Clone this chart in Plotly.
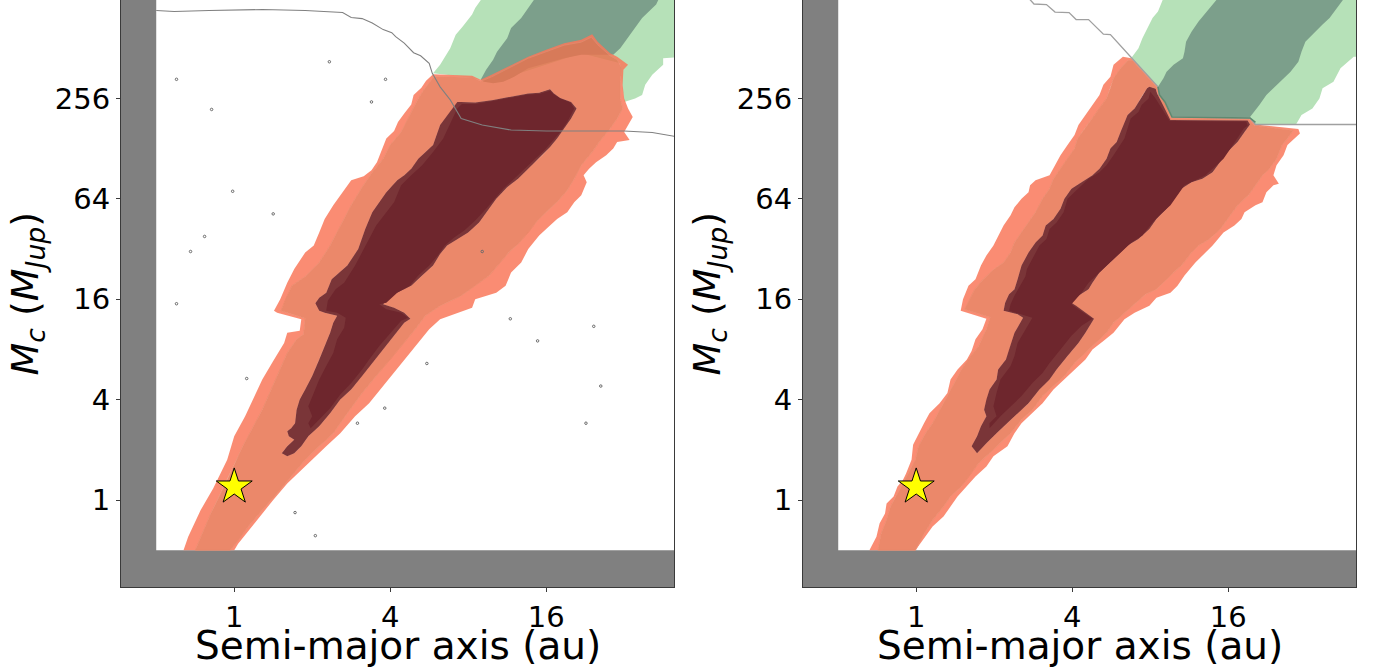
import numpy as np
import plotly.graph_objects as go

FONT = "DejaVu Sans"

# ---------------- data ----------------
A_RANGE = (0.3656, 49.83)      # au, visible window
M_RANGE = (0.3009, 996.0)      # M_Jup, visible window
A_CUT = 0.5                    # grid starts here (au)
M_CUT = 0.5                    # grid starts here (M_Jup)
X_TICKS = [1, 4, 16]
Y_TICKS = [1, 4, 16, 64, 256]
STAR_A = [1.0]
STAR_M = [1.2]

# contour vertices as (log2 a [au], log2 Mc [M_Jup])
LEFT_OUTER = [(-0.65,-1.0),(-0.59,-0.73),(-0.43,-0.2),(-0.27,0.23),(-0.09,0.8),(0.0,1.27),(0.14,1.67),(0.36,2.4),(0.5,2.77),(0.64,3.13),(0.68,3.33),(0.84,3.37),(0.86,3.6),(0.55,3.73),(0.51,3.77),(0.59,4.0),(0.68,4.33),
    (0.77,4.6),(0.91,4.93),(1.02,5.07),(1.09,5.33),(1.16,5.6),(1.27,5.87),(1.39,6.13),(1.5,6.37),(1.66,6.45),(1.76,6.57),(1.83,6.73),(1.89,6.97),(1.95,7.2),(2.05,7.35),(2.1,7.53),(2.18,7.7),(2.27,7.88),(2.3,8.07),(2.4,8.21),(2.46,8.35),(2.55,8.48),
    (3.05,8.45),(3.16,8.37),(3.3,8.47),(3.55,8.67),(3.77,8.83),(4.0,8.97),(4.23,9.1),(4.45,9.17),(4.59,9.28),(4.66,9.13),(4.82,8.9),(4.91,8.83),(5.05,8.67),
    (4.99,8.57),(4.98,8.27),(5.0,8.0),(5.05,7.8),(5.11,7.63),(5.05,7.47),(5.0,7.33),(5.07,7.17),(4.91,7.13),(4.86,7.0),(4.77,6.87),(4.64,6.73),(4.55,6.6),(4.48,6.47),(4.52,6.33),(4.45,6.07),(4.36,5.93),(4.27,5.73),(4.14,5.6),(4.0,5.4),(3.91,5.27),(3.77,5.0),(3.68,4.73),(3.55,4.53),(3.48,4.27),
    (3.36,4.13),(3.09,4.0),(3.05,3.83),(2.86,3.73),(2.64,3.6),(2.5,3.4),(2.36,3.13),(2.23,2.87),(2.05,2.53),(1.91,2.27),(1.73,1.93),(1.55,1.67),(1.36,1.33),(1.18,1.07),(1.0,0.8),(0.82,0.53),(0.68,0.33),(0.5,0.0),(0.36,-0.27),(0.18,-0.6),(0.05,-0.87),(0.0,-1.0)]

LEFT_MIDDLE = [(-0.5,-1.0),(-0.3,-0.27),(-0.09,0.4),(0.11,1.07),(0.36,1.8),(0.55,2.47),(0.68,2.93),(0.8,3.2),(0.89,3.3),(0.91,3.62),(0.7,3.72),(0.6,3.77),(0.66,4.0),(0.74,4.27),
    (0.91,4.45),(1.09,4.73),(1.23,5.07),(1.36,5.47),(1.5,5.87),(1.64,6.23),(1.77,6.53),(1.91,6.8),(2.0,7.07),(2.14,7.33),(2.27,7.73),(2.36,8.0),(2.45,8.21),(2.56,8.43),
    (3.05,8.42),(3.16,8.34),(3.3,8.43),(3.55,8.63),(3.77,8.8),(4.0,8.93),(4.23,9.06),(4.45,9.12),(4.58,9.22),(4.66,9.07),(4.82,8.85),(4.91,8.77),(4.97,8.6),
    (4.95,8.33),(4.95,8.0),(4.98,7.8),(4.91,7.6),(4.82,7.4),(4.68,7.13),(4.59,6.93),(4.45,6.67),(4.36,6.4),(4.27,6.17),(4.16,5.97),(4.0,5.73),(3.89,5.57),(3.77,5.33),(3.66,5.13),(3.52,4.93),(3.41,4.73),(3.27,4.47),(3.09,4.27),
    (2.91,4.07),(2.64,3.87),(2.45,3.67),(2.32,3.4),(2.18,3.13),(2.0,2.8),(1.82,2.47),(1.64,2.13),(1.45,1.73),(1.27,1.33),(1.09,1.07),(0.91,0.8),(0.73,0.47),(0.55,0.13),(0.36,-0.2),(0.18,-0.53),(0.05,-0.8),(-0.05,-1.0)]

LEFT_RING = [(0.68,0.87),(0.61,0.93),(0.68,1.07),(0.77,1.2),(0.70,1.27),(0.68,1.37),(0.73,1.43),(0.78,1.53),(0.80,1.8),(0.84,2.0),(0.91,2.2),(1.0,2.47),(1.09,2.8),(1.16,3.07),(1.23,3.33),(1.27,3.53),(1.32,3.67),(1.16,3.73),(1.09,3.77),(1.04,3.92),(1.09,4.03),(1.18,4.13),(1.25,4.4),
    (1.45,4.67),(1.59,5.0),(1.68,5.4),(1.77,5.73),(1.95,6.13),(2.09,6.37),(2.18,6.47),(2.27,6.6),(2.36,6.8),(2.45,6.93),(2.55,7.07),(2.64,7.47),(2.77,7.73),(2.86,7.93),
    (2.91,7.93),(3.09,7.92),(3.32,7.97),(3.55,8.03),(3.77,8.1),(3.91,8.11),(4.05,8.18),(4.1,8.1),(4.18,8.01),(4.32,7.93),(4.39,7.8),
    (4.32,7.6),(4.23,7.4),(4.14,7.2),(4.05,7.03),(3.95,6.87),(3.86,6.73),(3.77,6.6),(3.64,6.4),(3.5,6.23),(3.36,6.0),(3.27,5.8),(3.14,5.53),(3.0,5.33),(2.86,5.2),(2.73,5.07),(2.64,4.9),(2.55,4.67),(2.41,4.47),(2.36,4.4),(2.27,4.27),(2.18,4.2),
    (2.0,4.07),(1.91,3.9),(2.05,3.83),(2.18,3.73),(2.26,3.61),(2.18,3.53),(2.05,3.27),(1.91,3.0),(1.77,2.73),(1.64,2.47),(1.5,2.2),(1.36,2.0),(1.23,1.73),(1.09,1.47),(0.95,1.27),(0.86,1.07),(0.77,0.93)]

LEFT_INNER = [(0.98,1.43),(0.95,1.53),(1.0,1.67),(0.95,1.87),(1.02,2.13),(1.09,2.4),(1.18,2.67),(1.27,2.93),(1.32,3.2),(1.41,3.43),(1.43,3.63),(1.32,3.73),(1.18,3.77),(1.2,3.97),(1.3,4.2),
    (1.41,4.33),(1.55,4.67),(1.68,5.07),(1.82,5.47),(2.05,5.93),(2.14,6.27),(2.27,6.47),(2.41,6.67),(2.55,6.93),(2.68,7.2),(2.8,7.6),(2.86,7.8),(2.92,7.89),
    (3.09,7.89),(3.32,7.95),(3.55,8.01),(3.77,8.08),(3.91,8.09),(4.05,8.15),(4.1,8.08),(4.18,8.0),(4.31,7.92),(4.36,7.8),
    (4.27,7.53),(4.18,7.33),(4.07,7.13),(3.98,6.97),(3.86,6.8),(3.73,6.6),(3.59,6.4),(3.45,6.2),(3.34,6.0),(3.23,5.8),(3.09,5.57),(2.95,5.37),(2.82,5.23),(2.7,5.07),(2.61,4.87),(2.5,4.67),(2.36,4.47),(2.25,4.27),
    (2.09,4.13),(1.95,3.93),(1.86,3.9),(1.95,3.8),(2.14,3.73),(2.23,3.63),(2.14,3.57),(2.0,3.33),(1.86,3.07),(1.73,2.8),(1.64,2.6),(1.5,2.33),(1.36,2.1),(1.23,1.83),(1.09,1.6)]

LEFT_LGREEN = [(2.55,8.5),(2.64,8.67),(2.77,9.0),(2.84,9.27),(2.93,9.43),(3.05,9.67),(3.09,9.8),(3.18,10.0),(3.22,10.3),(5.8,10.3),(5.8,8.83),(5.5,8.8),(5.5,8.67),(5.36,8.47),(5.27,8.27),(5.23,8.07),(5.14,8.0),(5.0,7.93),(4.97,8.3),(4.95,8.7),(4.45,8.9),(3.3,8.32),(3.0,8.42)]

LEFT_DGREEN = [(3.16,8.37),(3.23,8.57),(3.32,8.77),(3.37,8.93),(3.5,9.2),(3.55,9.4),(3.68,9.6),(3.77,9.8),(3.86,10.0),(3.9,10.3),(5.5,10.3),(5.45,10.0),(5.41,9.87),(5.23,9.6),(5.14,9.4),(5.05,9.2),(4.95,9.0),(4.86,8.87),(4.45,8.87),(4.23,8.8),(4.0,8.7),(3.77,8.6),(3.59,8.43),(3.45,8.33),(3.32,8.3),(3.2,8.33)]

LEFT_GREYLINE = [(-1.0,9.75),(-0.77,9.73),(-0.32,9.75),(0.36,9.77),(0.91,9.75),(1.18,9.72),(1.39,9.71),(1.5,9.61),(1.64,9.59),(1.77,9.5),(1.91,9.37),(2.02,9.31),(2.07,9.23),(2.18,9.1),(2.3,8.91),(2.39,8.85),(2.5,8.7),(2.54,8.5),(2.64,8.23),(2.77,7.97),(2.82,7.83),(2.91,7.6),(3.18,7.47),(3.55,7.37),(4.0,7.35),(4.45,7.35),(5.0,7.35),(5.36,7.32),(5.59,7.25),(5.7,7.23)]

LEFT_SPECKS = [(1.22,8.73),(-0.74,8.38),(-0.29,7.78),(1.94,8.38),(1.76,7.93),(-0.02,6.15),(0.5,5.7),(-0.38,5.25),(-0.56,4.95),(3.18,4.95),(-0.74,3.91),(0.16,2.42),(3.54,3.61),(3.89,3.17),(4.61,3.46),(4.7,2.27),(4.51,1.53),(2.47,2.72),(1.93,1.83),(1.58,1.53),(0.78,-0.25),(1.04,-0.71)]

RIGHT_OUTER = [(-0.6,-1.0),(-0.51,-0.73),(-0.47,-0.47),(-0.4,-0.27),(-0.38,-0.07),(-0.29,0.07),(-0.24,0.27),(-0.17,0.4),(-0.13,0.53),(-0.06,0.8),(-0.04,1.1),(0.03,1.33),(0.1,1.53),(0.17,1.73),(0.3,1.93),(0.4,2.13),(0.44,2.4),(0.53,2.6),(0.65,2.8),(0.71,2.97),(0.76,3.2),(0.85,3.4),(0.9,3.61),(0.57,3.77),(0.6,4.0),(0.67,4.27),
    (0.76,4.4),(0.83,4.67),(0.9,4.87),(0.99,5.07),(1.05,5.27),(1.12,5.47),(1.21,5.67),(1.26,5.83),(1.35,6.0),(1.44,6.13),(1.46,6.27),(1.53,6.37),(1.71,6.47),(1.78,6.67),(1.85,6.87),(1.94,7.07),(2.03,7.27),(2.08,7.47),(2.17,7.67),(2.26,7.87),(2.35,8.07),(2.4,8.27),(2.49,8.43),(2.53,8.67),(2.65,8.83),
    (2.76,8.8),(3.1,8.23),(3.12,8.07),(3.19,7.93),(3.28,7.63),(4.28,7.61),(4.35,7.48),(4.9,7.39),(4.92,7.3),
    (4.85,7.2),(4.76,7.07),(4.71,6.87),(4.62,6.67),(4.58,6.47),(4.65,6.3),(4.58,6.27),(4.49,6.13),(4.44,5.93),(4.35,5.87),(4.21,5.73),(4.17,5.6),(4.08,5.47),(3.94,5.33),(3.8,5.07),(3.67,4.87),(3.58,4.73),(3.44,4.47),(3.35,4.27),
    (3.26,4.13),(3.08,4.03),(2.99,3.87),(2.8,3.73),(2.67,3.6),(2.53,3.33),(2.4,3.17),(2.26,3.0),(2.17,2.8),(2.03,2.6),(1.9,2.4),(1.76,2.2),(1.62,1.93),(1.49,1.73),(1.35,1.53),(1.26,1.33),(1.17,1.07),(0.99,0.87),(0.9,0.67),(0.76,0.47),(0.65,0.27),(0.53,0.07),(0.44,-0.13),(0.35,-0.33),(0.21,-0.53),(0.12,-0.73),(-0.01,-1.0)]

RIGHT_MIDDLE = [(-0.49,-1.0),(-0.45,-0.67),(-0.38,-0.4),(-0.33,-0.13),(-0.26,0.07),(-0.17,0.33),(-0.1,0.53),(-0.01,0.8),(0.03,1.07),(0.12,1.33),(0.21,1.53),(0.3,1.8),(0.4,2.07),(0.49,2.33),(0.58,2.6),(0.67,2.8),(0.8,3.07),(0.9,3.4),(0.95,3.64),(0.62,3.8),(0.68,4.0),(0.75,4.2),(0.86,4.4),(1.0,4.6),(1.12,4.73),(1.21,4.93),(1.26,5.13),(1.35,5.33),(1.44,5.53),(1.53,5.73),(1.62,6.0),(1.71,6.2),(1.76,6.4),(1.85,6.6),(1.94,6.8),(2.03,7.0),(2.07,7.2),(2.16,7.4),(2.25,7.6),(2.35,7.8),(2.44,8.0),(2.49,8.2),(2.53,8.4),(2.62,8.6),(2.71,8.75),
    (2.77,8.76),(3.09,8.21),(3.11,8.05),(3.18,7.91),(3.27,7.6),(4.27,7.58),(4.34,7.46),(4.83,7.36),
    (4.76,7.2),(4.69,7.07),(4.62,6.8),(4.53,6.6),(4.44,6.47),(4.35,6.27),(4.26,6.07),(4.12,5.87),(3.99,5.6),(3.9,5.4),(3.76,5.2),(3.62,5.07),(3.53,4.93),(3.4,4.67),(3.3,4.53),(3.21,4.4),(3.08,4.2),
    (2.94,4.1),(2.8,3.9),(2.67,3.73),(2.53,3.53),(2.44,3.33),(2.3,3.13),(2.17,2.93),(2.03,2.73),(1.9,2.47),(1.76,2.27),(1.62,2.07),(1.49,1.8),(1.35,1.6),(1.21,1.33),(1.08,1.13),(0.94,0.93),(0.8,0.73),(0.67,0.47),(0.58,0.27),(0.44,0.07),(0.35,-0.13),(0.21,-0.4),(0.1,-0.67),(-0.01,-1.0)]

RIGHT_RING = [(0.78,0.93),(0.71,1.07),(0.78,1.27),(0.83,1.47),(0.9,1.67),(0.87,1.8),(0.9,2.0),(0.94,2.2),(1.03,2.4),(1.05,2.6),(1.15,2.8),(1.21,3.07),(1.26,3.33),(1.37,3.63),(1.3,3.7),(1.12,3.77),(1.14,3.93),(1.19,4.1),(1.26,4.2),(1.3,4.4),
    (1.35,4.67),(1.44,4.93),(1.53,5.13),(1.62,5.27),(1.66,5.47),(1.76,5.6),(1.85,5.8),(1.9,6.0),(1.99,6.2),(2.12,6.33),(2.26,6.47),(2.35,6.6),(2.44,6.8),(2.49,7.0),(2.57,7.13),(2.62,7.33),(2.67,7.53),(2.71,7.67),(2.8,7.8),(2.85,7.93),(2.9,8.07),(2.96,8.2),(2.99,8.23),
    (3.07,8.19),(3.09,8.1),(3.16,7.87),(3.26,7.57),(4.25,7.56),(4.28,7.48),
    (4.21,7.33),(4.12,7.13),(3.99,6.93),(3.9,6.73),(3.8,6.53),(3.67,6.4),(3.53,6.33),(3.4,6.2),(3.3,6.0),(3.21,5.8),(3.08,5.6),(2.99,5.4),(2.85,5.2),(2.71,5.07),(2.62,4.93),(2.49,4.73),(2.35,4.53),(2.26,4.33),
    (2.21,4.2),(2.08,4.07),(1.99,3.93),(2.05,3.87),(2.17,3.73),(2.28,3.61),(2.17,3.33),(2.08,3.13),(1.94,2.87),(1.8,2.6),(1.71,2.4),(1.58,2.2),(1.44,1.93),(1.3,1.73),(1.17,1.53),(1.03,1.33),(0.9,1.13)]

RIGHT_INNER = [(0.94,1.43),(0.94,1.53),(1.03,1.67),(0.99,1.87),(1.03,2.13),(1.08,2.4),(1.21,2.67),(1.26,2.87),(1.3,3.13),(1.4,3.4),(1.49,3.63),(1.19,3.77),(1.21,3.9),(1.26,4.07),(1.33,4.27),(1.4,4.45),
    (1.42,4.6),(1.49,4.8),(1.58,5.07),(1.67,5.2),(1.71,5.4),(1.8,5.53),(1.89,5.73),(1.94,6.0),(2.03,6.13),(2.12,6.27),(2.21,6.4),(2.35,6.53),(2.44,6.67),(2.53,6.87),(2.62,7.07),(2.67,7.2),(2.71,7.4),(2.75,7.6),(2.85,7.73),(2.89,7.87),(2.98,8.0),(3.0,8.13),
    (3.06,8.02),(3.15,7.8),(3.25,7.55),(4.23,7.54),(4.25,7.46),
    (4.2,7.4),(4.12,7.2),(4.03,7.0),(3.94,6.8),(3.8,6.6),(3.71,6.47),(3.58,6.37),(3.44,6.27),(3.35,6.07),(3.26,5.87),(3.12,5.67),(3.03,5.53),(2.9,5.27),(2.76,5.13),(2.67,5.0),(2.53,4.8),(2.4,4.6),(2.3,4.47),(2.21,4.33),
    (2.12,4.13),(1.99,3.9),(2.08,3.8),(2.17,3.7),(2.26,3.61),(2.12,3.47),(1.99,3.27),(1.85,3.0),(1.71,2.73),(1.62,2.53),(1.49,2.33),(1.35,2.07),(1.21,1.87),(1.08,1.67)]

RIGHT_LGREEN = [(2.76,8.81),(2.85,9.0),(2.9,9.2),(2.96,9.4),(3.03,9.6),(3.1,9.73),(3.17,10.0),(3.2,10.3),(5.8,10.3),(5.8,8.83),(5.61,8.83),(5.44,8.6),(5.35,8.33),(5.21,8.2),(5.17,8.0),(5.08,7.8),(4.94,7.67),(4.87,7.48),(4.35,7.48),(4.28,7.61),(3.28,7.63),(3.19,7.93),(3.12,8.07),(3.1,8.23)]

RIGHT_DGREEN = [(3.1,8.23),(3.17,8.4),(3.21,8.53),(3.3,8.67),(3.42,8.8),(3.44,8.93),(3.46,9.13),(3.53,9.33),(3.62,9.53),(3.76,9.8),(3.87,10.0),(3.9,10.3),(5.5,10.3),(5.49,10.0),(5.4,9.8),(5.3,9.6),(5.21,9.47),(5.08,9.27),(4.99,9.13),(4.94,8.93),(4.9,8.73),(4.8,8.53),(4.62,8.27),(4.49,8.07),(4.4,7.87),(4.28,7.63),(3.28,7.63),(3.21,7.8),(3.12,8.07)]

RIGHT_GREEN_EDGE = [(3.1,8.23),(3.12,8.07),(3.19,7.93),(3.28,7.63),(4.28,7.61),(4.35,7.52)]

RIGHT_GREYLINE = [(1.42,10.2),(1.44,10.0),(1.51,9.88),(1.67,9.87),(1.78,9.72),(1.96,9.71),(2.05,9.57),(2.21,9.57),(2.4,9.28),(2.49,9.27),(2.76,8.81),(3.1,8.23),(3.12,8.07),(3.19,7.93),(3.28,7.63),(4.28,7.61),(4.35,7.48),(5.7,7.48)]

# ---------------- styles ----------------
OUTER_FILL = "rgba(249,120,91,0.85)"
MIDDLE_FILL = "rgba(231,115,80,0.85)"
MIDDLE_EDGE = "rgb(235,136,106)"
RING_FILL = "#7A3538"
INNER_FILL = "#6E262D"
LGREEN_FILL = "#B6E1B8"
DGREEN_FILL = "#7C9F8B"
GREY = "#808080"


def uv(pts):
    arr = np.array(pts, dtype=float)
    return arr[:, 0], arr[:, 1]


def signed_area(u, v):
    return 0.5 * np.sum(u * np.roll(v, -1) - np.roll(u, -1) * v)


def closed(u, v):
    x = list(2.0 ** u) + [2.0 ** u[0]]
    y = list(2.0 ** v) + [2.0 ** v[0]]
    return x, y


def poly_trace(pts, color, xa, ya, line_color=None, line_width=0):
    u, v = uv(pts)
    x, y = closed(u, v)
    return go.Scatter(x=x, y=y, mode="lines", fill="toself", fillcolor=color,
                      line=dict(width=line_width, color=line_color or color),
                      hoverinfo="skip", showlegend=False, xaxis=xa, yaxis=ya)


def band_trace(outer, hole, color, xa, ya, edge_color=None, edge_width=0):
    ou, ov = uv(outer)
    hu, hv = uv(hole)
    if np.sign(signed_area(ou, ov)) == np.sign(signed_area(hu, hv)):
        hu, hv = hu[::-1], hv[::-1]
    x1, y1 = closed(ou, ov)
    x2, y2 = closed(hu, hv)
    return go.Scatter(x=x1 + [None] + x2, y=y1 + [None] + y2, mode="lines",
                      fill="toself", fillcolor=color,
                      line=dict(width=edge_width, color=edge_color or color),
                      hoverinfo="skip", showlegend=False, xaxis=xa, yaxis=ya)


def line_trace(pts, color, width, xa, ya):
    u, v = uv(pts)
    return go.Scatter(x=2.0 ** u, y=2.0 ** v, mode="lines",
                      line=dict(color=color, width=width),
                      hoverinfo="skip", showlegend=False, xaxis=xa, yaxis=ya)


def star_trace(xa, ya):
    return go.Scatter(x=STAR_A, y=STAR_M, mode="markers",
                      marker=dict(symbol="star", size=27, color="#FFFF00",
                                  line=dict(color="black", width=1)),
                      hoverinfo="skip", showlegend=False, xaxis=xa, yaxis=ya)


fig = go.Figure()

# left panel
fig.add_trace(poly_trace(LEFT_LGREEN, LGREEN_FILL, "x", "y"))
fig.add_trace(poly_trace(LEFT_DGREEN, DGREEN_FILL, "x", "y"))
fig.add_trace(band_trace(LEFT_OUTER, LEFT_MIDDLE, OUTER_FILL, "x", "y"))
fig.add_trace(band_trace(LEFT_MIDDLE, LEFT_RING, MIDDLE_FILL, "x", "y", MIDDLE_EDGE, 0.8))
fig.add_trace(poly_trace(LEFT_RING, RING_FILL, "x", "y"))
fig.add_trace(poly_trace(LEFT_INNER, INNER_FILL, "x", "y"))
fig.add_trace(line_trace(LEFT_GREYLINE, GREY, 1.1, "x", "y"))
su, sv = uv(LEFT_SPECKS)
fig.add_trace(go.Scatter(x=2.0 ** su, y=2.0 ** sv, mode="markers",
                         marker=dict(symbol="circle-open", size=2.5, color="#6a6a6a", line=dict(width=1)),
                         hoverinfo="skip", showlegend=False, xaxis="x", yaxis="y"))
fig.add_trace(star_trace("x", "y"))

# right panel
fig.add_trace(poly_trace(RIGHT_LGREEN, LGREEN_FILL, "x2", "y2"))
fig.add_trace(poly_trace(RIGHT_DGREEN, DGREEN_FILL, "x2", "y2"))
fig.add_trace(band_trace(RIGHT_OUTER, RIGHT_MIDDLE, OUTER_FILL, "x2", "y2"))
fig.add_trace(band_trace(RIGHT_MIDDLE, RIGHT_RING, MIDDLE_FILL, "x2", "y2", MIDDLE_EDGE, 0.8))
fig.add_trace(poly_trace(RIGHT_RING, RING_FILL, "x2", "y2"))
fig.add_trace(poly_trace(RIGHT_INNER, INNER_FILL, "x2", "y2"))
fig.add_trace(line_trace(RIGHT_GREYLINE, "#a0a0a0", 1.3, "x2", "y2"))
fig.add_trace(line_trace(RIGHT_GREEN_EDGE, "#5E8A70", 1.6, "x2", "y2"))
fig.add_trace(star_trace("x2", "y2"))

W, H = 1374, 671
PLOT_BOTTOM = 587
XDOM_L = [121 / W, 674 / W]
XDOM_R = [803 / W, 1356 / W]
YDOM = [(H - PLOT_BOTTOM) / H, 1.0]
TICK_SIZE = 29
TITLE_SIZE = 39


def xaxis(domain, anchor):
    return dict(type="log", domain=domain, anchor=anchor,
                range=[np.log10(A_RANGE[0]), np.log10(A_RANGE[1])],
                tickvals=X_TICKS, ticktext=[str(t) for t in X_TICKS],
                showgrid=False, zeroline=False, showline=True, mirror=True,
                linecolor="#3a3a3a", linewidth=1, ticks="outside", ticklen=4,
                tickwidth=1, tickcolor="#3a3a3a", automargin=False,
                tickfont=dict(family=FONT, size=TICK_SIZE, color="black"))


def yaxis(anchor):
    return dict(type="log", domain=YDOM, anchor=anchor,
                range=[np.log10(M_RANGE[0]), np.log10(M_RANGE[1])],
                tickvals=Y_TICKS, ticktext=[str(t) for t in Y_TICKS],
                showgrid=False, zeroline=False, showline=True, mirror=True,
                linecolor="#3a3a3a", linewidth=1, ticks="outside", ticklen=4,
                tickwidth=1, tickcolor="#3a3a3a", automargin=False,
                tickfont=dict(family=FONT, size=TICK_SIZE, color="black"))


XLABEL = "Semi-major axis (au)"
YLABEL = "<i>M</i><sub><i>c</i></sub> (<i>M</i><sub><i>Jup</i></sub>)"

annotations = []
for dom in (XDOM_L, XDOM_R):
    annotations.append(dict(text=XLABEL, xref="paper", yref="paper",
                            x=(dom[0] + dom[1]) / 2, y=0.038, xanchor="center", yanchor="middle",
                            showarrow=False, font=dict(family=FONT, size=TITLE_SIZE, color="black")))
for xc in (27 / W, 709 / W):
    annotations.append(dict(text=YLABEL, xref="paper", yref="paper",
                            x=xc, y=(YDOM[0] + YDOM[1]) / 2, xanchor="center", yanchor="middle",
                            textangle=-90, showarrow=False,
                            font=dict(family=FONT, size=38, color="black")))

shapes = []
for xr, yr in (("x", "y"), ("x2", "y2")):
    shapes.append(dict(type="rect", xref=xr, yref=yr, x0=A_CUT, y0=M_CUT,
                       x1=A_RANGE[1], y1=M_RANGE[1], fillcolor="white",
                       line=dict(width=0), layer="below"))

fig.update_layout(
    template="none",
    width=W, height=H, autosize=False,
    margin=dict(l=0, r=0, t=0, b=0, pad=0),
    paper_bgcolor="white", plot_bgcolor=GREY,
    xaxis=xaxis(XDOM_L, "y"), yaxis=yaxis("x"),
    xaxis2=xaxis(XDOM_R, "y2"), yaxis2=yaxis("x2"),
    annotations=annotations, shapes=shapes,
    font=dict(family=FONT),
    showlegend=False,
)

fig.write_html("out.html",
               config={"displayModeBar": False, "staticPlot": True},
               post_script="document.body.style.margin='0px';"
                           "document.body.style.overflow='hidden';")
